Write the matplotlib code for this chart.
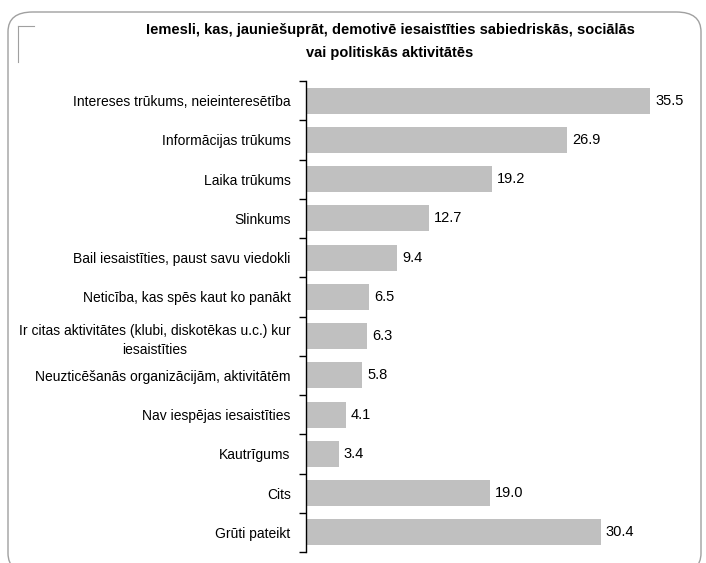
import matplotlib.pyplot as plt
from matplotlib.patches import FancyBboxPatch
from matplotlib.lines import Line2D

# data, top to bottom as in the chart
categories = [
    "Intereses trūkums, neieinteresētība",
    "Informācijas trūkums",
    "Laika trūkums",
    "Slinkums",
    "Bail iesaistīties, paust savu viedokli",
    "Neticība, kas spēs kaut ko panākt",
    "Ir citas aktivitātes (klubi, diskotēkas u.c.) kur\niesaistīties",
    "Neuzticēšanās organizācijām, aktivitātēm",
    "Nav iespējas iesaistīties",
    "Kautrīgums",
    "Cits",
    "Grūti pateikt",
]
values = [35.5, 26.9, 19.2, 12.7, 9.4, 6.5, 6.3, 5.8, 4.1, 3.4, 19.0, 30.4]
title = ("Iemesli, kas, jauniešuprāt, demotivē iesaistīties sabiedriskās, sociālās\n"
         "vai politiskās aktivitātēs")

plt.rcParams['font.family'] = ['Liberation Sans Narrow', 'Liberation Sans', 'DejaVu Sans']

W, H = 706, 563
fig = plt.figure(figsize=(W / 100, H / 100), dpi=100)

# rounded frame round the whole chart
frame = FancyBboxPatch((8 / W, -10 / H), 693 / W, (H - 2) / H,
                       boxstyle="round,pad=0,rounding_size=0.035",
                       transform=fig.transFigure, fill=False,
                       edgecolor='#a0a0a0', linewidth=1.0)
fig.patches.append(frame)
# little leftover box lines at top left
fig.lines.append(Line2D([18 / W, 34 / W], [1 - 26 / H, 1 - 26 / H],
                        transform=fig.transFigure, color='#a0a0a0', lw=0.8))
fig.lines.append(Line2D([18 / W, 18 / W], [1 - 26 / H, 1 - 62 / H],
                        transform=fig.transFigure, color='#a0a0a0', lw=0.8))

fig.text(390 / W, 1 - 41.5 / H, title, ha='center', va='center',
         fontsize=10.5, fontweight='bold', linespacing=1.9)

ax = fig.add_axes([306 / W, 1 - 552 / H, 388 / W, 471 / H])
n = len(categories)
ypos = list(range(n))
ax.barh(ypos, values, height=0.66, color='#c0c0c0')
ax.set_xlim(0, 40)
ax.set_ylim(n - 0.5, -0.5)

for y, v in zip(ypos, values):
    ax.text(v + 0.5, y, f"{v:.1f}", va='center', ha='left', fontsize=10.5)

ax.set_yticks(ypos)
ax.set_yticklabels(categories, fontsize=10, ha='right', multialignment='center',
                   linespacing=1.45)
ax.tick_params(axis='y', which='major', length=0, pad=11)
ax.set_yticks([i - 0.5 for i in range(n + 1)], minor=True)
ax.tick_params(axis='y', which='minor', length=5, width=1, direction='out')
ax.set_xticks([])
for s in ['top', 'right', 'bottom']:
    ax.spines[s].set_visible(False)
ax.spines['left'].set_linewidth(1)

fig.savefig("out.png", dpi=100)
